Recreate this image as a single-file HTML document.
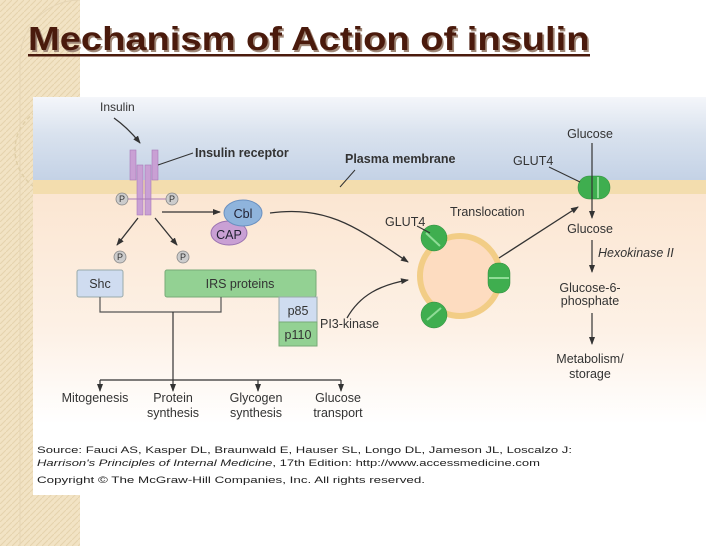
<!DOCTYPE html>
<html><head><meta charset="utf-8"><style>
body{margin:0;width:728px;height:546px;overflow:hidden;background:#fff;font-family:"Liberation Sans",Arial,sans-serif;}
</style></head><body>
<svg width="728" height="546" viewBox="0 0 728 546" xmlns="http://www.w3.org/2000/svg" font-family="Liberation Sans, Arial, sans-serif">
<defs>
<linearGradient id="top" x1="0" y1="0" x2="0" y2="1"><stop offset="0" stop-color="#f4f6fa"/><stop offset="0.45" stop-color="#d9e2ee"/><stop offset="1" stop-color="#c4d2e6"/></linearGradient>
<linearGradient id="bot" x1="0" y1="0" x2="0" y2="1"><stop offset="0" stop-color="#fbe6d2"/><stop offset="0.6" stop-color="#fdf1e6"/><stop offset="1" stop-color="#ffffff"/></linearGradient>
<pattern id="tex" width="6" height="6" patternUnits="userSpaceOnUse"><rect width="6" height="6" fill="#f2e3c4"/><path d="M0 6L6 0" stroke="#e6d3ad" stroke-width="1"/></pattern>
<marker id="ar" markerWidth="8" markerHeight="8" refX="7" refY="4" orient="auto" markerUnits="userSpaceOnUse"><path d="M0 1L8 4L0 7z" fill="#333"/></marker>
</defs>
<rect x="0" y="0" width="80" height="546" fill="url(#tex)"/>
<path d="M80 0 A60 60 0 0 0 20 60 L20 546" fill="none" stroke="#e5d5b5" stroke-width="1"/>
<circle cx="60" cy="150" r="45" fill="none" stroke="#e0cfa8" stroke-width="1.5" stroke-dasharray="4 3"/>
<g transform="translate(28,50) scale(1.155,1)">
<text x="1.5" y="2" font-size="33" font-weight="bold" fill="#a08878">Mechanism of Action of insulin</text>
<text x="0" y="0" font-size="33" font-weight="bold" fill="#4a1a0c">Mechanism of Action of insulin</text>
</g>
<rect x="28" y="54" width="562" height="2.5" fill="#4a1a0c"/>
<rect x="33" y="97" width="673" height="398" fill="#fff"/>
<rect x="33" y="97" width="673" height="83" fill="url(#top)"/>
<rect x="33" y="180" width="673" height="14" fill="#f3ddae"/>
<rect x="33" y="194" width="673" height="230" fill="url(#bot)"/>
<g font-size="12" fill="#333">
<text x="100" y="111">Insulin</text>
<path d="M114 118 Q128 128 140 143" fill="none" stroke="#333" stroke-width="1.3" marker-end="url(#ar)"/>
<g fill="#c9a0d4" stroke="#a87ab8" stroke-width="0.6">
<rect x="130" y="150" width="6" height="30"/><rect x="152" y="150" width="6" height="30"/>
<rect x="137" y="165" width="6" height="50"/><rect x="145" y="165" width="6" height="50"/>
</g>
<path d="M158 165 L193 153" stroke="#333" stroke-width="1"/>
<text x="195" y="157" font-weight="bold" font-size="12.5">Insulin receptor</text>
<text x="345" y="163" font-weight="bold" font-size="12.5">Plasma membrane</text>
<path d="M355 170 L340 187" stroke="#333" stroke-width="1"/>
<line x1="128" y1="199" x2="168" y2="199" stroke="#a87ab8"/>
<g fill="#ccc" stroke="#888" stroke-width="0.8"><circle cx="122" cy="199" r="6"/><circle cx="172" cy="199" r="6"/><circle cx="120" cy="257" r="6"/><circle cx="183" cy="257" r="6"/></g>
<g font-size="9" text-anchor="middle"><text x="122" y="202">P</text><text x="172" y="202">P</text><text x="120" y="260">P</text><text x="183" y="260">P</text></g>
<path d="M162 212 L220 212" stroke="#333" stroke-width="1.3" marker-end="url(#ar)"/>
<path d="M138 218 L117 245" stroke="#333" stroke-width="1.3" marker-end="url(#ar)"/>
<path d="M155 218 L177 245" stroke="#333" stroke-width="1.3" marker-end="url(#ar)"/>
<ellipse cx="229" cy="233" rx="18" ry="12" fill="#c9a0d4" stroke="#9a72b0"/>
<ellipse cx="243" cy="213" rx="19" ry="13" fill="#8fb4dc" stroke="#6a90c0"/>
<text x="243" y="218" text-anchor="middle" font-size="12.5" fill="#223">Cbl</text>
<text x="229" y="239" text-anchor="middle" font-size="12.5" fill="#223">CAP</text>
<rect x="77" y="270" width="46" height="27" rx="2" fill="#cfdcf0" stroke="#9aa"/>
<text x="100" y="288" text-anchor="middle" font-size="12.5">Shc</text>
<rect x="165" y="270" width="151" height="27" rx="2" fill="#93d193" stroke="#7a7"/>
<text x="240" y="288" text-anchor="middle" font-size="12.5">IRS proteins</text>
<rect x="279" y="297" width="38" height="25" fill="#cfdcf0" stroke="#9aa"/>
<text x="298" y="315" text-anchor="middle" font-size="12.5">p85</text>
<rect x="279" y="322" width="38" height="24" fill="#93d193" stroke="#7a7"/>
<text x="298" y="339" text-anchor="middle" font-size="12.5">p110</text>
<text x="320" y="328" font-size="12.5">PI3-kinase</text>
<path d="M100 297 V312 H221 V297" fill="none" stroke="#555" stroke-width="1.2"/>
<path d="M173 312 V391" stroke="#333" stroke-width="1.2" marker-end="url(#ar)"/>
<path d="M100 380 H341" stroke="#333" stroke-width="1.2"/>
<path d="M100 380 V391" stroke="#333" stroke-width="1.2" marker-end="url(#ar)"/>
<path d="M258 380 V391" stroke="#333" stroke-width="1.2" marker-end="url(#ar)"/>
<path d="M341 380 V391" stroke="#333" stroke-width="1.2" marker-end="url(#ar)"/>
<g font-size="12.5" text-anchor="middle">
<text x="95" y="402">Mitogenesis</text>
<text x="173" y="402">Protein</text><text x="173" y="417">synthesis</text>
<text x="256" y="402">Glycogen</text><text x="256" y="417">synthesis</text>
<text x="338" y="402">Glucose</text><text x="338" y="417">transport</text>
</g>
<path d="M270 213 C330 205 360 230 408 262" fill="none" stroke="#333" stroke-width="1.3" marker-end="url(#ar)"/>
<path d="M347 318 C360 295 380 285 408 280" fill="none" stroke="#333" stroke-width="1.3" marker-end="url(#ar)"/>
<circle cx="460" cy="276" r="40" fill="#fddcc0" stroke="#f2cd86" stroke-width="6"/>
<g fill="#3fae4f" stroke="#2e8a3c" stroke-width="0.5">
<circle cx="434" cy="238" r="13"/><rect x="488" y="263" width="22" height="30" rx="10"/><circle cx="434" cy="315" r="13"/>
<rect x="578" y="176" width="32" height="23" rx="11"/>
</g>
<g stroke="#8fdc96" stroke-width="2"><line x1="426" y1="233" x2="440" y2="246"/><line x1="489" y1="278" x2="509" y2="278"/><line x1="427" y1="320" x2="441" y2="308"/><line x1="598" y1="177" x2="598" y2="198"/></g>
<text x="385" y="226" font-size="12.5">GLUT4</text>
<path d="M417 226 L430 233" stroke="#333" stroke-width="1"/>
<text x="450" y="216" font-size="12.5">Translocation</text>
<path d="M499 258 L578 207" stroke="#333" stroke-width="1.3" marker-end="url(#ar)"/>
<text x="590" y="138" text-anchor="middle" font-size="12.5">Glucose</text>
<text x="513" y="165" font-size="12.5">GLUT4</text>
<path d="M549 167 L580 182" stroke="#333" stroke-width="1"/>
<path d="M592 143 V218" stroke="#333" stroke-width="1.2" marker-end="url(#ar)"/>
<text x="590" y="233" text-anchor="middle" font-size="12.5">Glucose</text>
<text x="598" y="257" font-size="12.5" font-style="italic">Hexokinase II</text>
<path d="M592 240 V272" stroke="#333" stroke-width="1.2" marker-end="url(#ar)"/>
<text x="590" y="292" text-anchor="middle" font-size="12.5">Glucose-6-</text>
<text x="590" y="305" text-anchor="middle" font-size="12.5">phosphate</text>
<path d="M592 313 V344" stroke="#333" stroke-width="1.2" marker-end="url(#ar)"/>
<text x="590" y="363" text-anchor="middle" font-size="12.5">Metabolism/</text>
<text x="590" y="378" text-anchor="middle" font-size="12.5">storage</text>
</g>
<g font-size="9" fill="#222">
<text x="37" y="453" textLength="535" lengthAdjust="spacingAndGlyphs">Source: Fauci AS, Kasper DL, Braunwald E, Hauser SL, Longo DL, Jameson JL, Loscalzo J:</text>
<text x="37" y="466" textLength="503" lengthAdjust="spacingAndGlyphs"><tspan font-style="italic">Harrison's Principles of Internal Medicine</tspan>, 17th Edition: http://www.accessmedicine.com</text>
<text x="37" y="483" textLength="388" lengthAdjust="spacingAndGlyphs">Copyright © The McGraw-Hill Companies, Inc. All rights reserved.</text>
</g>
</svg>
</body></html>
